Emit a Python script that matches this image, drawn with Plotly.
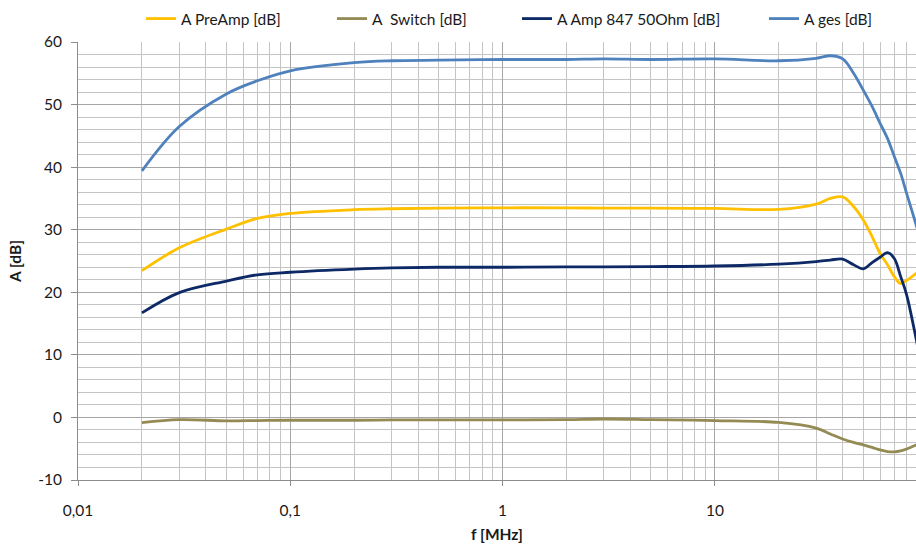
import plotly.graph_objects as go

# Frequency points of the measurement (MHz)
freq_mhz = [0.02, 0.03, 0.05, 0.07, 0.1, 0.2, 0.3, 0.5, 1, 2, 3, 5, 10, 20,
            30, 35, 40, 45, 50, 55, 60, 65, 70, 75, 80, 90, 100]

# Gain of each stage in dB
a_preamp = [23.45, 27.1, 30.1, 31.8, 32.6, 33.2, 33.35, 33.45, 33.5, 33.5, 33.45, 33.45, 33.4, 33.25,
            34.1, 35.0, 35.25, 33.7, 31.55, 28.9, 26.2, 24.4, 22.5, 21.4, 21.9, 23.2, 24.5]
a_switch = [-0.84, -0.36, -0.55, -0.5, -0.45, -0.45, -0.4, -0.4, -0.4, -0.35, -0.25, -0.35, -0.5, -0.8,
            -1.7, -2.65, -3.45, -4.0, -4.4, -4.8, -5.2, -5.45, -5.5, -5.35, -5.05, -4.3, -3.5]
a_amp847 = [16.7, 19.95, 21.8, 22.8, 23.2, 23.7, 23.9, 24.0, 24.0, 24.05, 24.05, 24.1, 24.2, 24.5,
            24.9, 25.15, 25.3, 24.4, 23.75, 24.75, 25.6, 26.35, 25.4, 22.5, 19.6, 11.5, 4.0]
a_ges = [39.4, 46.5, 51.7, 53.8, 55.4, 56.7, 57.0, 57.1, 57.2, 57.2, 57.3, 57.2, 57.3, 57.0,
         57.4, 57.8, 57.3, 55.0, 52.3, 49.7, 47.0, 44.6, 41.7, 39.0, 35.8, 30.0, 24.0]

series_names = ["A PreAmp [dB]", "A  Switch [dB]", "A Amp 847 50Ohm [dB]", "A ges [dB]"]
series_colors = ["#FFC000", "#948A54", "#0E2A66", "#4F81BD"]

x_tick_vals = [0.01, 0.1, 1, 10]
x_tick_text = ["0,01", "0,1", "1", "10"]
y_tick_vals = [-10, 0, 10, 20, 30, 40, 50, 60]
y_tick_text = ["-10", "0", "10", "20", "30", "40", "50", "60"]

FONT = "Lato"
FS = 15.5
TXT = "#1a1a1a"

W, H = 916, 549
ML, MR, MT, MB = 78, 0, 42, 69
PX_PER_DECADE = 212.3
x_hi = -2 + (W - ML - MR) / PX_PER_DECADE

fig = go.Figure()
legend_ids = ["legend", "legend2", "legend3", "legend4"]
for name, vals, col, lg in zip(series_names, [a_preamp, a_switch, a_amp847, a_ges],
                               series_colors, legend_ids):
    fig.add_trace(go.Scatter(
        x=freq_mhz, y=vals, name=name, mode="lines",
        line=dict(color=col, width=2.8, shape="spline", smoothing=1.0),
        legend=lg, showlegend=True,
    ))

# minor log grid: 2..9 within each decade
minor_x = [m * 10.0 ** e for e in range(-2, 3) for m in range(2, 10)]

plot_w = W - ML - MR
legend_text_x = [181, 372, 557, 804]
legend_cfg = {}
for lg, tx in zip(legend_ids, legend_text_x):
    legend_cfg[lg] = dict(
        x=(tx - 40 - ML) / plot_w, xanchor="left",
        y=1 + (MT - 19) / (H - MT - MB), yanchor="middle",
        orientation="h", bgcolor="rgba(0,0,0,0)", borderwidth=0,
        font=dict(family=FONT, size=FS, color=TXT),
        itemwidth=30,
    )

fig.update_layout(
    width=W, height=H,
    margin=dict(l=ML, r=MR, t=MT, b=MB, pad=0),
    paper_bgcolor="white", plot_bgcolor="white",
    font=dict(family=FONT, size=FS, color=TXT),
    **legend_cfg,
)

fig.update_xaxes(
    type="log", range=[-2, x_hi],
    tickmode="array", tickvals=x_tick_vals, ticktext=x_tick_text,
    ticks="outside", ticklen=5, tickcolor="#8c8c8c", tickwidth=1,
    ticklabelstandoff=11,
    showline=True, linecolor="#8c8c8c", linewidth=1,
    showgrid=True, gridcolor="#a6a6a6", gridwidth=1,
    minor=dict(tickvals=minor_x, showgrid=True, gridcolor="#c4c4c4", gridwidth=1, ticks=""),
    title=dict(text="<b>f [MHz]</b>", font=dict(family=FONT, size=FS, color=TXT), standoff=11),
    zeroline=False,
)
fig.update_yaxes(
    range=[-10, 60],
    tickmode="array", tickvals=y_tick_vals, ticktext=y_tick_text,
    ticks="outside", ticklen=6, tickcolor="#8c8c8c", tickwidth=1,
    ticklabelstandoff=6,
    showline=True, linecolor="#8c8c8c", linewidth=1,
    showgrid=True, gridcolor="#a6a6a6", gridwidth=1,
    minor=dict(dtick=2, showgrid=True, gridcolor="#c4c4c4", gridwidth=1, ticks=""),
    title=dict(text="<b>A [dB]</b>", font=dict(family=FONT, size=FS, color=TXT), standoff=12),
    zeroline=False,
)

fig.write_html("out.html")
